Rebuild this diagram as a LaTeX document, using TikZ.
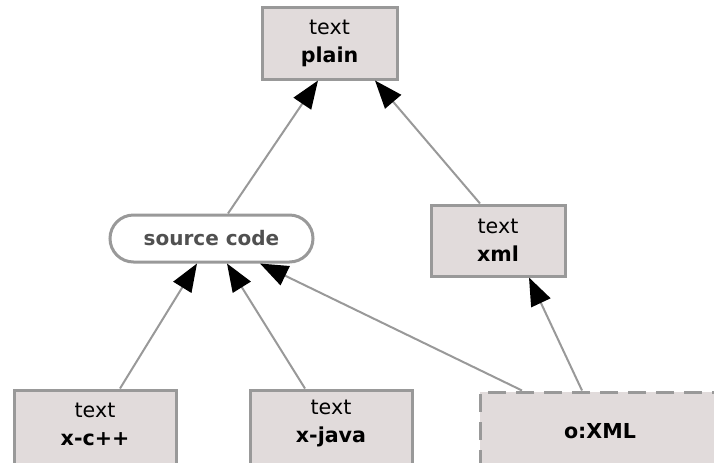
\documentclass[tikz,border=0pt]{standalone}
\usepackage{fontspec}
\setmainfont{DejaVu Sans}
\usepackage{tikz}
\usetikzlibrary{arrows.meta,positioning}

\definecolor{boxfill}{RGB}{225,219,219}
\definecolor{boxline}{RGB}{153,153,153}
\definecolor{srctext}{RGB}{80,80,80}

\begin{document}
\begin{tikzpicture}[x=0.5pt,y=-0.5pt,
    typebox/.style={draw=boxline,line width=1.5pt,fill=boxfill,align=center,
      text=black,font=\fontsize{10.3}{15}\selectfont,
      minimum width=67.5pt,minimum height=36pt,inner sep=0pt},
    srcbox/.style={draw=boxline,line width=1.5pt,fill=white,rounded corners=11.75pt,
      text=srctext,font=\fontsize{10}{15}\selectfont\bfseries,
      minimum width=101.5pt,minimum height=23.5pt,inner sep=0pt},
    edge/.style={draw=boxline,line width=1pt,
      -{Triangle[length=14pt,width=10.5pt,color=black]}}]
	  \clip (0,0) rectangle (714,462);
	  % Draw the type nodes
	  \node[typebox] (plain) at (329.5,43) {text\\[-1pt]\textbf{plain}};
	  \node[srcbox] (src) at (211.5,238.5) {source code};
	  \node[typebox,minimum width=67pt,minimum height=35.5pt] (xml) at (498,240.5) {text\\[-1pt]\textbf{xml}};
	  \node[typebox,minimum width=81pt,minimum height=39pt,text depth=5pt] (cpp) at (95,429) {text\\[-1pt]\textbf{x-c++}};
	  \node[typebox,minimum width=81pt,minimum height=39pt,text depth=7.4pt] (java) at (331,429) {text\\[-1pt]\textbf{x-java}};
	  \node[typebox,dash pattern=on 9pt off 5pt,minimum width=120pt,minimum height=39pt] (oxml) at (600,431) {\textbf{o:XML}};
	  % Draw the edges
	  \draw[edge] ([xshift=8.25pt]src.north) -- ([xshift=-5.75pt]plain.south);
	  \draw[edge] ([xshift=-9pt]xml.north) -- ([xshift=22.75pt]plain.south);
	  \draw[edge] ([xshift=12.5pt]cpp.north) -- ([xshift=-7.25pt]src.south);
	  \draw[edge] ([xshift=-13pt]java.north) -- ([xshift=7.75pt]src.south);
	  \draw[edge] ([xshift=-39pt]oxml.north) -- ([xshift=24.25pt]src.south);
	  \draw[edge] ([xshift=-9pt]oxml.north) -- ([xshift=15.5pt]xml.south);
\end{tikzpicture}
\end{document}
